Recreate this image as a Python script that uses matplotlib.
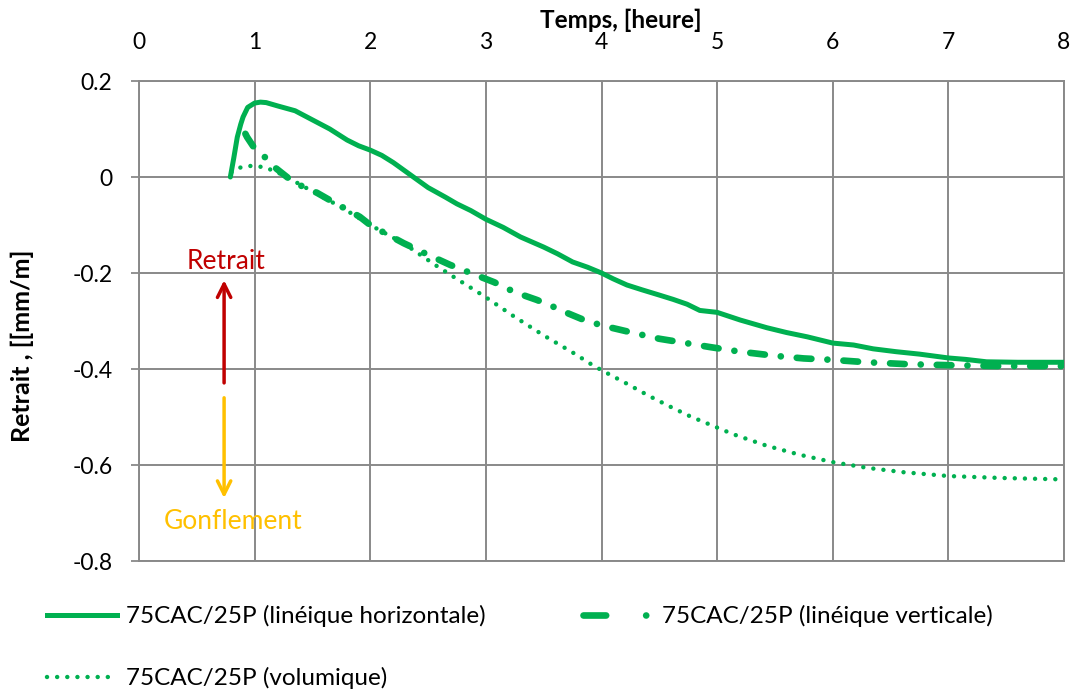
import matplotlib
matplotlib.use("Agg")
import matplotlib.pyplot as plt
from matplotlib.lines import Line2D

plt.rcParams['font.family'] = ['Lato', 'DejaVu Sans']

# ---------------- data ----------------
t_horiz = [0.79, 0.82, 0.85, 0.88, 0.90, 0.94, 1.00, 1.05, 1.10, 1.20, 1.35, 1.50, 1.65, 1.80, 1.90,
           2.00, 2.10, 2.20, 2.35, 2.50, 2.65, 2.75, 2.87, 3.00, 3.15, 3.30, 3.50, 3.62, 3.75, 3.88,
           4.00, 4.10, 4.22, 4.35, 4.50, 4.62, 4.74, 4.85, 5.00, 5.20, 5.43, 5.60, 5.78, 6.00, 6.18,
           6.35, 6.55, 6.75, 7.00, 7.15, 7.33, 7.60, 8.00]
v_horiz = [0.000, 0.040, 0.083, 0.110, 0.125, 0.145, 0.154, 0.156, 0.155, 0.148, 0.138, 0.119, 0.100, 0.077, 0.065,
           0.056, 0.045, 0.030, 0.004, -0.022, -0.042, -0.056, -0.070, -0.088, -0.105, -0.125, -0.146, -0.160, -0.177, -0.188,
           -0.200, -0.212, -0.225, -0.235, -0.246, -0.255, -0.265, -0.278, -0.282, -0.298, -0.314, -0.324, -0.333, -0.346, -0.350,
           -0.358, -0.364, -0.369, -0.377, -0.380, -0.385, -0.386, -0.386]

t_vert = [0.92, 0.935, 0.99, 1.07, 1.18, 1.29, 1.40, 1.54, 1.70, 1.80, 1.91, 2.00, 2.15, 2.29, 2.50,
          2.69, 2.90, 3.07, 3.25, 3.44, 3.60, 3.70, 3.87, 4.05, 4.28, 4.50, 4.68, 4.93, 5.20, 5.52,
          5.75, 6.00, 6.30, 6.65, 7.00, 7.45, 8.00]
v_vert = [0.090, 0.083, 0.063, 0.046, 0.019, -0.002, -0.018, -0.033, -0.055, -0.068, -0.083, -0.100, -0.120, -0.138, -0.162,
          -0.183, -0.203, -0.219, -0.240, -0.256, -0.272, -0.283, -0.300, -0.312, -0.325, -0.337, -0.344, -0.354, -0.364, -0.373,
          -0.378, -0.381, -0.386, -0.390, -0.392, -0.394, -0.394]

t_vol = [0.80, 0.86, 0.96, 1.07, 1.18, 1.30, 1.50, 1.75, 2.00, 2.30, 2.56, 2.74, 2.99, 3.24, 3.50,
         3.76, 3.93, 4.02, 4.23, 4.41, 4.59, 4.77, 4.96, 5.14, 5.43, 5.72, 6.00, 6.30, 6.61, 7.00,
         7.45, 7.99]
v_vol = [0.010, 0.019, 0.023, 0.021, 0.012, -0.003, -0.030, -0.063, -0.100, -0.140, -0.183, -0.211, -0.249, -0.290, -0.330,
         -0.367, -0.393, -0.405, -0.432, -0.456, -0.478, -0.499, -0.518, -0.536, -0.560, -0.579, -0.594, -0.606, -0.615, -0.623,
         -0.627, -0.630]

labels = ["75CAC/25P (linéique horizontale)", "75CAC/25P (linéique verticale)", "75CAC/25P (volumique)"]
x_ticks = [0, 1, 2, 3, 4, 5, 6, 7, 8]
y_ticks = [-0.8, -0.6, -0.4, -0.2, 0, 0.2]
y_ticklabels = ["-0.8", "-0.6", "-0.4", "-0.2", "0", "0.2"]

GREEN = "#00B050"
GRID = "#898989"

W, H = 1075, 693
fig = plt.figure(figsize=(W / 100, H / 100), dpi=100)
ax = fig.add_axes([139 / W, 1 - 561 / H, (1064 - 139) / W, (561 - 81) / H])

ax.set_xlim(0, 8)
ax.set_ylim(-0.8, 0.2)

ax.plot(t_horiz, v_horiz, color=GREEN, lw=3.6, solid_capstyle='round', solid_joinstyle='round', zorder=3)
ax.plot(t_vert, v_vert, color=GREEN, lw=4.8, linestyle=(0, (2.2, 2.4, 0.01, 2.4)),
        dash_capstyle='round', zorder=3)
ax.plot(t_vol, v_vol, color=GREEN, lw=3.2, linestyle=(0, (0.01, 2.27)), dash_capstyle='round', zorder=3)

# axes styling
ax.xaxis.tick_top()
ax.set_xticks(x_ticks)
ax.set_xticklabels([str(v) for v in x_ticks])
ax.set_yticks(y_ticks)
ax.set_yticklabels(y_ticklabels)
ax.tick_params(axis='x', length=0, labelsize=16.5, pad=20)
ax.tick_params(axis='y', length=6, width=1.3, color=GRID, labelsize=16.5, pad=13, direction='out')
ax.grid(True, color=GRID, lw=1.4)
for s in ax.spines.values():
    s.set_color(GRID)
    s.set_linewidth(1.4)
ax.set_axisbelow(True)

fig.text(621 / W, 1 - 20 / H, "Temps, [heure]", ha='center', va='center', fontsize=17.5, fontweight='bold')
fig.text(22 / W, 1 - 346 / H, "Retrait , [[mm/m]", ha='center', va='center', rotation=90,
         fontsize=18, fontweight='bold')

# annotation arrows
ax.annotate("", xy=(0.736, -0.215), xytext=(0.736, -0.429),
            arrowprops=dict(arrowstyle='->', color="#C00000", lw=2.5, mutation_scale=24, shrinkA=0, shrinkB=0))
ax.annotate("", xy=(0.736, -0.669), xytext=(0.736, -0.46),
            arrowprops=dict(arrowstyle='->', color="#FFC000", lw=2.5, mutation_scale=24, shrinkA=0, shrinkB=0))
ax.text(0.75, -0.177, "Retrait", color="#C00000", ha='center', va='center', fontsize=19)
ax.text(0.81, -0.717, "Gonflement", color="#FFC000", ha='center', va='center', fontsize=19)

# legend
h1 = Line2D([], [], color=GREEN, lw=3.6)
h2 = Line2D([], [], color=GREEN, lw=4.8, linestyle=(0, (3.4, 6.0, 0.01, 10)), dash_capstyle='round')
h3 = Line2D([], [], color=GREEN, lw=3.2, linestyle=(0, (0.01, 2.27)), dash_capstyle='round')
fig.legend([h1, h3, h2], [labels[0], labels[2], labels[1]], ncol=2, loc='upper left',
           bbox_to_anchor=(47 / W, 1 - 605 / H), frameon=False, fontsize=17.5,
           handlelength=2.9, handletextpad=0.35, columnspacing=4.0, labelspacing=1.65,
           borderpad=0, borderaxespad=0)

fig.savefig("out.png", dpi=100)
